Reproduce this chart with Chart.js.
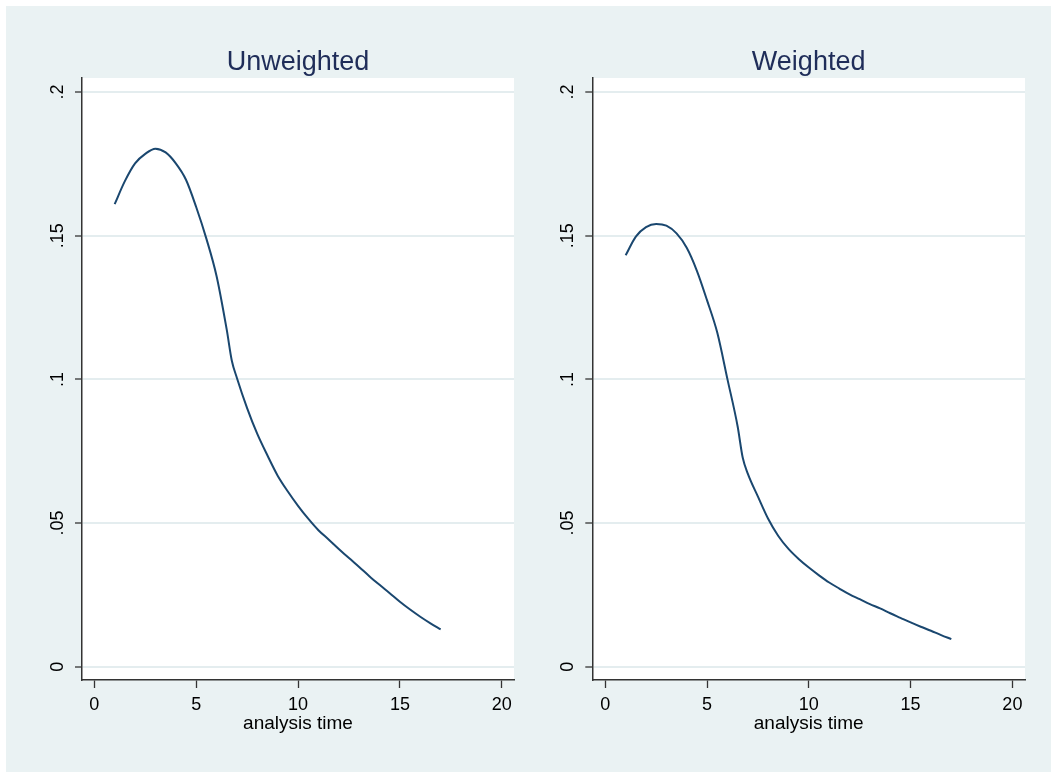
<!DOCTYPE html>
<html>
<head>
<meta charset="utf-8">
<script src="https://cdn.jsdelivr.net/npm/chart.js@4"></script>
<style>
  html, body { margin: 0; padding: 0; background: #ffffff; overflow: hidden; }
  #page { position: absolute; left: 6px; top: 6px; width: 1100px; height: 800px; background: #eaf2f3; }
  canvas { position: absolute; top: 6px; }
  #leftChart { left: 6px; }
  #rightChart { left: 520px; }
</style>
</head>
<body>
<div id="page"></div>
<canvas id="leftChart" width="514" height="766"></canvas>
<canvas id="rightChart" width="531" height="766"></canvas>
<script>
// analysis time at which the hazard is read
const times = [1, 1.5, 2, 2.5, 3, 3.5, 4, 4.5, 5, 5.5, 6, 6.5, 6.75, 7, 7.5, 8, 8.5, 9, 9.5,
    10, 10.5, 11, 11.5, 12, 12.5, 13, 13.5, 14, 14.5, 15, 15.5, 16, 16.5, 17];

const unweighted = [0.161, 0.169, 0.1752, 0.1785, 0.1803, 0.179, 0.1752, 0.1695, 0.160, 0.149,
    0.136, 0.1173, 0.1065, 0.1005, 0.090, 0.081, 0.0735, 0.0665, 0.061, 0.056, 0.0515, 0.0475,
    0.0443, 0.041, 0.0378, 0.0347, 0.0315, 0.0285, 0.0256, 0.0226, 0.0199, 0.0174, 0.0151, 0.013];

const weighted = [0.1432, 0.1497, 0.153, 0.1541, 0.1535, 0.1508, 0.1458, 0.1378, 0.1275, 0.1163,
    0.1001, 0.0837, 0.0728, 0.0672, 0.0592, 0.0515, 0.0455, 0.041, 0.0375, 0.0345, 0.0318, 0.0293,
    0.0272, 0.0252, 0.0235, 0.0218, 0.0203, 0.0186, 0.017, 0.0154, 0.0139, 0.0125, 0.011, 0.0096];

const xTicks = [0, 5, 10, 15, 20];
const yTicks = [0, 0.05, 0.1, 0.15, 0.2];
const yTickLabels = ['0', '.05', '.1', '.15', '.2'];

const font = "'Liberation Sans', Arial, sans-serif";

// white plot region like Stata's
const plotRegion = {
    id: 'plotRegion',
    beforeDraw(chart) {
        const a = chart.chartArea;
        const ctx = chart.ctx;
        ctx.save();
        ctx.fillStyle = '#ffffff';
        ctx.fillRect(a.left, a.top, a.right - a.left, a.bottom - a.top);
        ctx.restore();
    }
};

function makePanel(id, title, values, yWidth, xMin, xMax, padRight) {
    const ctx = document.getElementById(id).getContext('2d');
    return new Chart(ctx, {
        type: 'line',
        data: {
            datasets: [{
                label: title,
                data: times.map((t, i) => ({ x: t, y: values[i] })),
                borderColor: '#1a476f',
                borderWidth: 2,
                pointRadius: 0,
                cubicInterpolationMode: 'monotone',
                fill: false
            }]
        },
        options: {
            responsive: false,
            animation: false,
            events: [],
            layout: { padding: { left: 0, right: padRight, top: 0, bottom: 0 } },
            plugins: {
                legend: { display: false },
                tooltip: { enabled: false },
                title: {
                    display: true,
                    text: title,
                    fullSize: false,
                    color: '#1f2d59',
                    font: { family: font, size: 27, weight: 'normal', lineHeight: 1 },
                    padding: { top: 43.5, bottom: 1.5 }
                }
            },
            scales: {
                x: {
                    type: 'linear',
                    min: xMin,
                    max: xMax,
                    afterBuildTicks: s => { s.ticks = xTicks.map(v => ({ value: v })); },
                    afterFit: s => { s.height = 92; },
                    grid: { drawOnChartArea: false, tickLength: 8, tickColor: '#333333', tickWidth: 1.3 },
                    border: { color: '#333333', width: 1.5 },
                    ticks: { color: '#000000', padding: 6, font: { family: font, size: 18 } },
                    title: {
                        display: true,
                        text: 'analysis time',
                        color: '#000000',
                        font: { family: font, size: 19 },
                        padding: { top: 0, bottom: 37 }
                    }
                },
                y: {
                    type: 'linear',
                    min: -0.00463,
                    max: 0.2049,
                    afterBuildTicks: s => { s.ticks = yTicks.map(v => ({ value: v })); },
                    afterFit: s => { s.width = yWidth; },
                    grid: { color: '#e4edef', lineWidth: 2, tickLength: 7, tickColor: '#333333', tickWidth: 1.3 },
                    border: { color: '#333333', width: 1.5 },
                    ticks: {
                        color: '#000000',
                        minRotation: 90,
                        maxRotation: 90,
                        crossAlign: 'center',
                        padding: 4.5,
                        font: { family: font, size: 18 },
                        callback: v => yTickLabels[yTicks.indexOf(v)]
                    }
                }
            }
        },
        plugins: [plotRegion]
    });
}

document.addEventListener('DOMContentLoaded', () => {
    makePanel('leftChart', 'Unweighted', unweighted, 76, -0.604, 20.6, 6);
    makePanel('rightChart', 'Weighted', weighted, 72.3, -0.639, 20.62, 26);
});
</script>
</body>
</html>
